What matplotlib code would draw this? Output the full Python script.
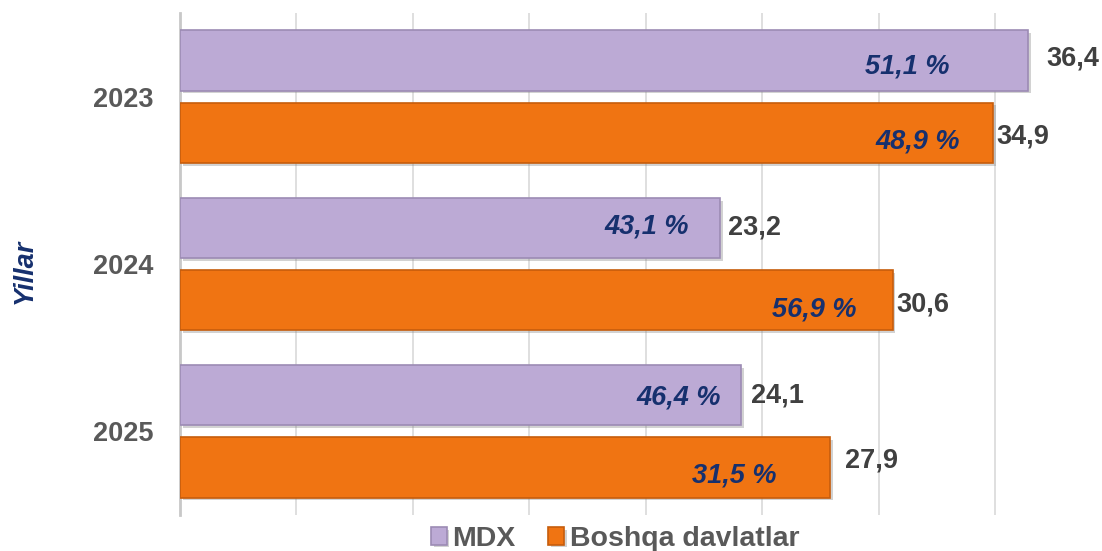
import matplotlib.pyplot as plt
import matplotlib.patheffects as pe
import numpy as np

plt.rcParams['font.family'] = ['Liberation Sans', 'DejaVu Sans']

# data
years = ['2023', '2024', '2025']
mdx = [36.4, 23.2, 24.1]
boshqa = [34.9, 30.6, 27.9]
mdx_share = ['51,1 %', '43,1 %', '46,4 %']
boshqa_share = ['48,9 %', '56,9 %', '31,5 %']

# label placement (px right of / left of bar end, px down from bar centre)
mdx_val_pad = [(19, -2), (8, 0), (10, 0)]
boshqa_val_pad = [(4, 4), (4, 4), (15, -7)]
mdx_pad = [(78, 6), (31, -1), (20, 2)]
boshqa_pad = [(33, 9), (36, 9), (53, 8)]

c_mdx = '#bcaad5'
c_oth = '#f07412'
gray = '#404040'
navy = '#16306e'
fs = 19.5

fig = plt.figure(figsize=(11.02, 5.51), dpi=100)
ax = fig.add_axes([180 / 1102, 36 / 551, 922 / 1102, 502 / 551])

y = np.arange(len(years))
h = 0.36
off = 0.216
shadow = [pe.SimplePatchShadow(offset=(2, -2), shadow_rgbFace='#808080', alpha=0.35), pe.Normal()]

b1 = ax.barh(y - off, mdx, height=h, color=c_mdx, edgecolor='#9c8bb4', linewidth=1.2,
             label='MDX', zorder=3)
b2 = ax.barh(y + off, boshqa, height=h, color=c_oth, edgecolor='#c65d0c', linewidth=1.2,
             label='Boshqa davlatlar', zorder=3)
for b in list(b1) + list(b2):
    b.set_path_effects(shadow)

# value labels
for bars, vals, pads in ((b1, mdx, mdx_val_pad), (b2, boshqa, boshqa_val_pad)):
    for bar, v, (dx, dy) in zip(bars, vals, pads):
        ax.annotate(f'{v:.1f}'.replace('.', ','), (v, bar.get_y() + bar.get_height() / 2),
                    xytext=(dx * 0.72, -dy * 0.72), textcoords='offset points',
                    ha='left', va='center',
                    fontsize=fs, fontweight='bold', color=gray, zorder=5)

# share labels inside bars
for bars, vals, labels, pads in ((b1, mdx, mdx_share, mdx_pad), (b2, boshqa, boshqa_share, boshqa_pad)):
    for bar, v, lab, (dx, dy) in zip(bars, vals, labels, pads):
        ax.annotate(lab, (v, bar.get_y() + bar.get_height() / 2),
                    xytext=(-dx * 0.72, -dy * 0.72), textcoords='offset points',
                    ha='right', va='center', fontsize=fs, fontweight='bold',
                    fontstyle='italic', color=navy, zorder=5)

ax.set_xticks(np.arange(0, 40, 5))
ax.set_xlim(0, 922 / 23.29)
ax.set_ylim(len(years) - 0.5, -0.5)
ax.set_xticklabels([])
ax.tick_params(axis='x', length=0)
ax.tick_params(axis='y', length=0, pad=19)
ax.set_yticks(y)
ax.set_yticklabels(years, fontsize=fs, fontweight='bold', color='#595959')
ax.grid(axis='x', color='#d9d9d9', linewidth=1.2, zorder=0)

for s in ('top', 'right', 'bottom'):
    ax.spines[s].set_visible(False)
ax.spines['left'].set_color('#c8c8c8')
ax.spines['left'].set_linewidth(2)

fig.text(25 / 1102, 1 - 271 / 551, 'Yillar', rotation=90, ha='center', va='center',
         fontsize=fs, fontweight='bold', fontstyle='italic', color=navy)

leg = fig.legend(handles=[b1, b2], loc='center', bbox_to_anchor=(615 / 1102, 1 - 539 / 551),
                 ncol=2, frameon=False, fontsize=fs + 1, handlelength=0.55, handleheight=0.55,
                 handletextpad=0.2, columnspacing=1.15, borderpad=0)
for t in leg.get_texts():
    t.set_fontweight('bold')
    t.set_color('#595959')

fig.savefig('out.png', dpi=100)
